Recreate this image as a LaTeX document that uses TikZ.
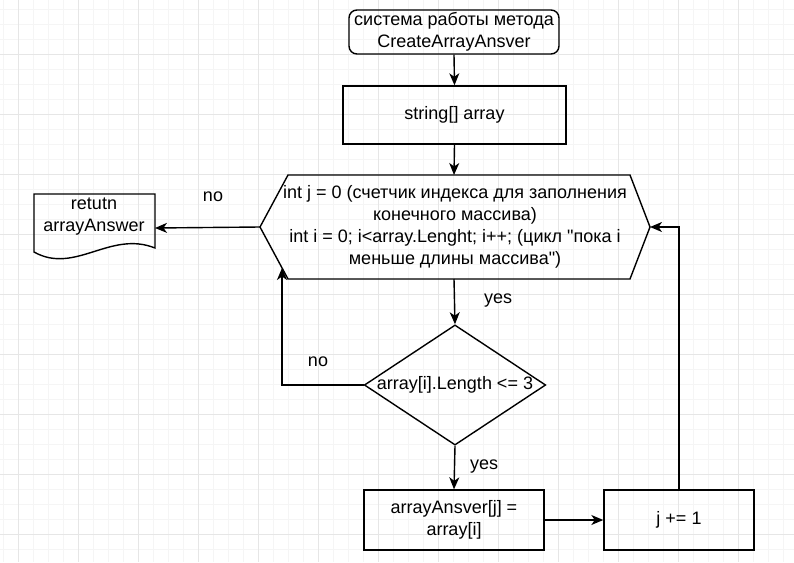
\documentclass[tikz,border=0pt]{standalone}
\usepackage{fontspec}
\setmainfont{Liberation Sans}[Ligatures=TeXOff]
\usetikzlibrary{shapes.geometric,arrows.meta}
\definecolor{gridminor}{HTML}{F5F5F5}
\definecolor{gridmajor}{HTML}{E6E6E6}
\begin{document}
\begin{tikzpicture}[x=1pt,y=-1pt,
  every node/.style={font=\fontsize{18}{22}\selectfont, align=center, inner sep=0pt},
  outl/.style={draw, line width=1.4pt},
  box/.style={outl, rectangle},
  conn/.style={line width=1.4pt, -{Stealth[length=12pt,width=10pt,inset=3.5pt]}}]
% background and grid
\fill[white] (0,0) rectangle (794,562);
\useasboundingbox (0,0) rectangle (794,562);
\foreach \x in {3,18,...,794} \draw[gridminor, line width=0.6pt] (\x,0) -- (\x,562);
\foreach \y in {9,24,...,562} \draw[gridminor, line width=0.6pt] (0,\y) -- (794,\y);
\foreach \x in {18,78,...,794} \draw[gridmajor, line width=0.6pt] (\x,0) -- (\x,562);
\foreach \y in {54,114,...,562} \draw[gridmajor, line width=0.6pt] (0,\y) -- (794,\y);

% start
\node[outl, rounded corners=8pt, minimum width=210pt, minimum height=44pt] (start) at (454,32)
  {система работы метода\\CreateArrayAnsver};
% string[] array
\node[box, minimum width=223pt, minimum height=58pt] (arr) at (454.5,115) {string[] array};

% hexagon
\coordinate (hexL) at (260,227);
\coordinate (hexR) at (650,227);
\coordinate (hexT) at (454,175);
\coordinate (hexB) at (454,279);
\coordinate (hexLB) at (282,268);
\draw[line width=1.4pt, line join=miter] (hexL) -- (288,175) -- (630,175) -- (hexR) -- (630,279) -- (288,279) -- cycle;
\node (hex) at (455,227) {int j = 0 (счетчик индекса для заполнения\\конечного массива)\\int i = 0; i<array.Lenght; i++; (цикл "пока i\\меньше длины массива")};

% document
\coordinate (docR) at (155,228);
\draw[line width=1.4pt] (34,252) .. controls (75,275) and (110,230) .. (155,248) -- (155,194) -- (34,194) -- cycle;
\node (doc) at (94,217) {retutn\\arrayAnswer};

% diamond
\node[outl, diamond, aspect=1.51, minimum width=180pt, minimum height=119pt] (dia) at (455,385)
  {array[i].Length <= 3};

% bottom boxes
\node[box, minimum width=180pt, minimum height=60pt] (b1) at (454,520) {arrayAnsver[j] =\\array[i]};
\node[box, minimum width=150pt, minimum height=60pt] (b2) at (679,520) {j += 1};

% connectors
\draw[conn] (start.south) -- (arr.north);
\draw[conn] (arr.south) -- (hexT);
\draw[conn] (hexL) -- (docR);
\node (lno1) at (213,197) {no};
\draw[conn] (hexB) -- (dia.north);
\node (lyes1) at (498,301) {yes};
\draw[conn] (dia.west) -| (hexLB);
\node (lno2) at (318,362) {no};
\draw[conn] (dia.south) -- (b1.north);
\node (lyes2) at (484,467) {yes};
\draw[conn] (b1.east) -- (b2.west);
\draw[conn] (b2.north) |- (hexR);
\end{tikzpicture}
\end{document}
